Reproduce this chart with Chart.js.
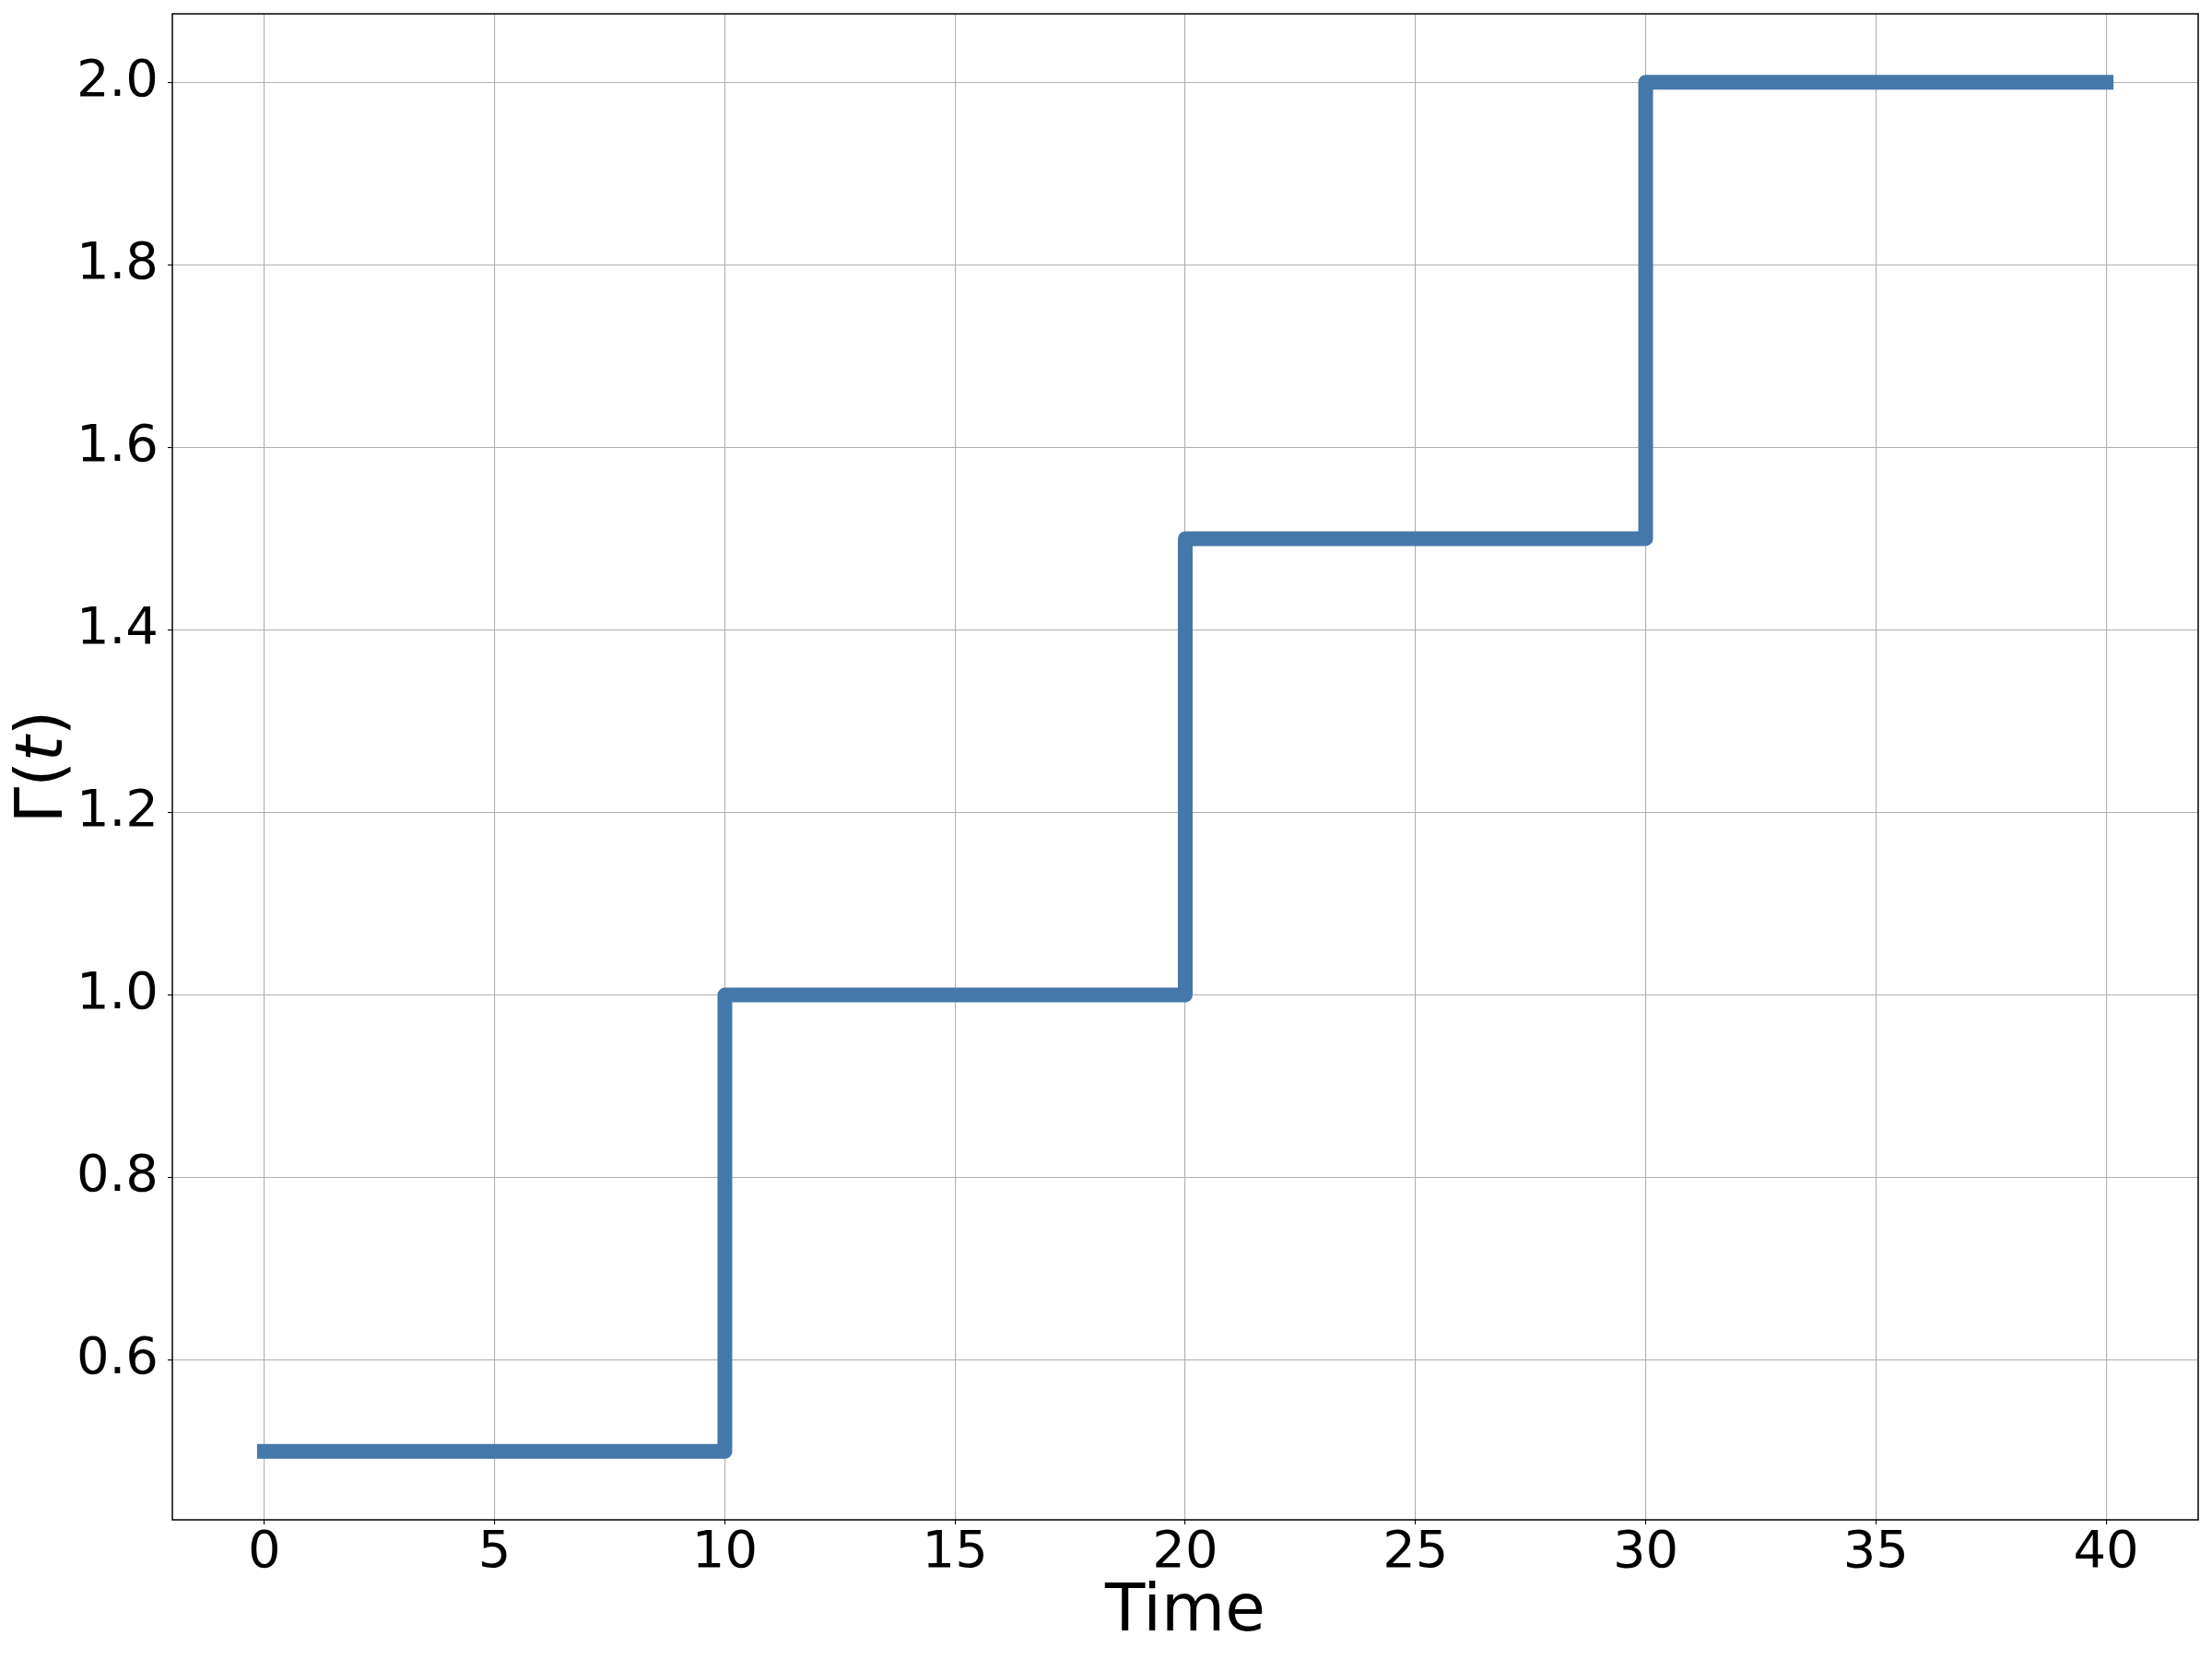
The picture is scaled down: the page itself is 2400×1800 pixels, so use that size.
<!DOCTYPE html>
<html>
<head>
<meta charset="utf-8">
<script src="https://cdn.jsdelivr.net/npm/chart.js@4/dist/chart.umd.min.js"></script>
<style>
html,body{margin:0;padding:0;background:#fff;}
#wrap{width:2400px;height:1800px;position:relative;}
</style>
</head>
<body>
<div id="wrap"><canvas id="c" width="2400" height="1800"></canvas></div>
<script>
// Data
const timePoints = [0, 10, 20, 30, 40];
const gammaValues = [0.5, 1.0, 1.5, 2.0, 2.0];
const xTicks = [0, 5, 10, 15, 20, 25, 30, 35, 40];
const yTicks = [0.6, 0.8, 1.0, 1.2, 1.4, 1.6, 1.8, 2.0];
const xLabel = 'Time';
const yLabelParts = ['Γ(', 't', ')'];

const FONT = "'DejaVu Sans', 'Liberation Sans', sans-serif";

const framePlugin = {
  id: 'frame',
  afterDraw(chart) {
    const {ctx, chartArea: a} = chart;
    ctx.save();
    ctx.strokeStyle = '#000';
    ctx.lineWidth = 1.5;
    ctx.strokeRect(a.left, a.top, a.right - a.left, a.bottom - a.top);
    // y axis label with italic t
    const size = 71;
    const normal = `${size}px ${FONT}`;
    const italic = `italic ${size}px ${FONT}`;
    ctx.font = normal; const w0 = ctx.measureText(yLabelParts[0]).width;
    ctx.font = italic; const w1 = ctx.measureText(yLabelParts[1]).width;
    ctx.font = normal; const w2 = ctx.measureText(yLabelParts[2]).width;
    const total = w0 + w1 + w2;
    const cy = (a.top + a.bottom) / 2;
    ctx.translate(67, cy);
    ctx.rotate(-Math.PI / 2);
    ctx.fillStyle = '#000';
    ctx.textBaseline = 'alphabetic';
    ctx.textAlign = 'left';
    let x = -total / 2;
    ctx.font = normal; ctx.fillText(yLabelParts[0], x, 0); x += w0;
    ctx.font = italic; ctx.fillText(yLabelParts[1], x, 0); x += w1;
    ctx.font = normal; ctx.fillText(yLabelParts[2], x, 0);
    ctx.restore();
  }
};

new Chart(document.getElementById('c'), {
  type: 'line',
  data: {
    datasets: [{
      data: timePoints.map((t, i) => ({x: t, y: gammaValues[i]})),
      borderColor: '#4578aa',
      backgroundColor: '#4578aa',
      borderWidth: 16,
      borderCapStyle: 'square',
      borderJoinStyle: 'round',
      stepped: 'before',
      pointRadius: 0,
      fill: false
    }]
  },
  options: {
    responsive: false,
    animation: false,
    devicePixelRatio: 1,
    layout: {padding: {top: 15, right: 15, left: 0, bottom: 0}},
    plugins: {legend: {display: false}, tooltip: {enabled: false}},
    scales: {
      x: {
        type: 'linear',
        min: -2, max: 42,
        afterBuildTicks: s => { s.ticks = xTicks.map(v => ({value: v})); },
        afterFit: s => { s.height = 151; s.paddingLeft = 0; s.paddingRight = 0; },
        grid: {color: '#b0b0b0', lineWidth: 1.1, tickLength: 5, tickColor: '#000', tickWidth: 1.1},
        border: {display: false},
        ticks: {
          font: {family: FONT, size: 56}, color: '#000', padding: -2, maxRotation: 0,
          callback: v => String(v)
        },
        title: {
          display: true, text: xLabel, color: '#000',
          font: {family: FONT, size: 71, lineHeight: 1.2},
          padding: {top: 0, bottom: 7}
        }
      },
      y: {
        type: 'linear',
        min: 0.425, max: 2.075,
        afterBuildTicks: s => { s.ticks = yTicks.map(v => ({value: v})); },
        afterFit: s => { s.width = 187; s.paddingTop = 0; s.paddingBottom = 0; },
        grid: {color: '#b0b0b0', lineWidth: 1.1, tickLength: 5, tickColor: '#000', tickWidth: 1.1},
        border: {display: false},
        ticks: {
          font: {family: FONT, size: 56}, color: '#000', padding: 10,
          callback: v => v.toFixed(1)
        }
      }
    }
  },
  plugins: [framePlugin]
});
</script>
</body>
</html>
